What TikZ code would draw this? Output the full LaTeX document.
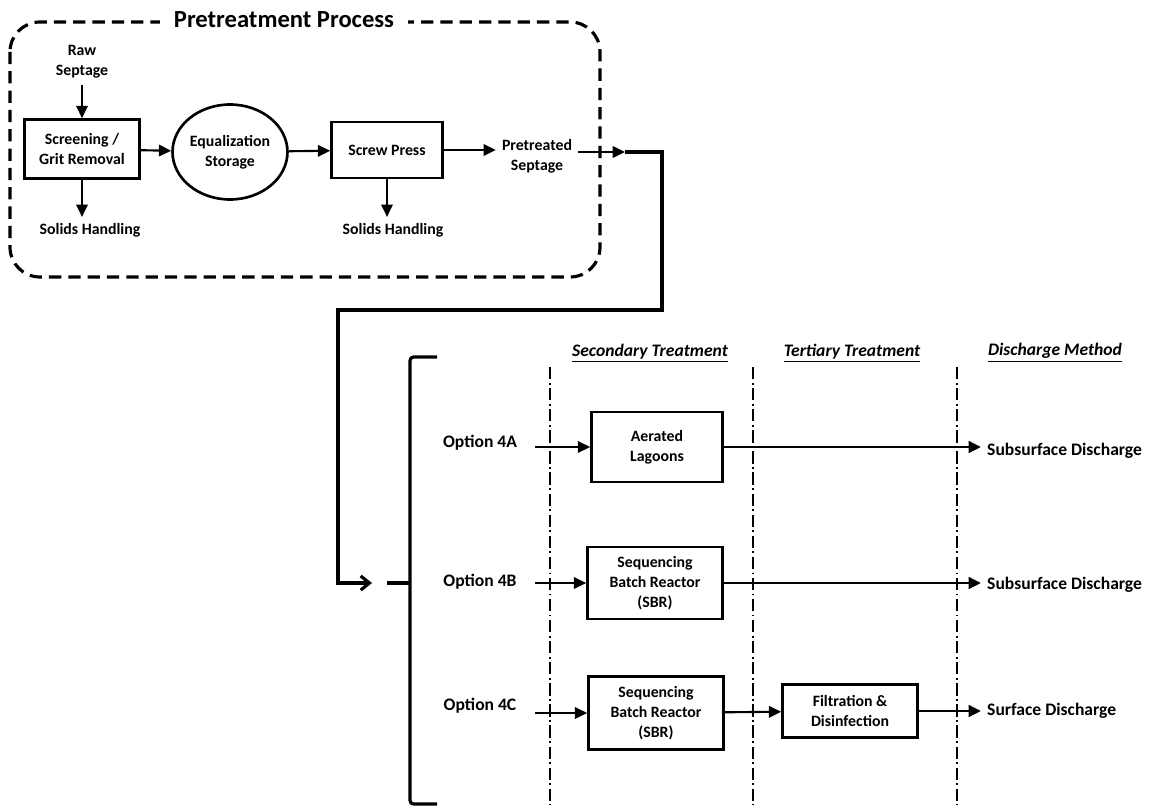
\documentclass[tikz,border=0pt]{standalone}
\usepackage{fontspec}
\setmainfont{Carlito}
\usetikzlibrary{shapes.geometric, positioning, arrows.meta}

\begin{document}
\begin{tikzpicture}[x=0.02cm, y=-0.02cm, >={Triangle[length=7pt,width=6.5pt]},
        procbox/.style={draw, line width=1.5pt, align=center, inner sep=2pt, font=\bfseries\fontsize{9}{11.5}\selectfont},
        lbl/.style={align=center, font=\bfseries\fontsize{9}{11.5}\selectfont},
        optlbl/.style={font=\bfseries\fontsize{10}{12}\selectfont},
        heading/.style={font=\bfseries\itshape\fontsize{10}{12}\selectfont},
        flow/.style={->, line width=1.2pt},
        outflow/.style={->, line width=1.7pt},
        pipe/.style={line width=1.8pt},
        zone/.style={line width=1.2pt, dash pattern=on 7pt off 2pt on 1pt off 2pt},
        pretreat/.style={line width=1.8pt, dash pattern=on 7pt off 4pt, rounded corners=17pt}]
        \useasboundingbox (0,0) rectangle (1154,808);

        \draw[pretreat] (10,22) rectangle (600,277);
        \node[fill=white, inner xsep=8pt, font=\bfseries\fontsize{14}{16}\selectfont] (title) at (284,20) {Pretreatment Process};

        \node[lbl] (raw) at (82,62) {Raw\\Septage};
        \node[procbox, minimum width=23mm, minimum height=11.8mm] (screen) at (82,149) {Screening /\\Grit Removal};
        \node[lbl] (solids1) at (90,230) {Solids Handling};
        \node[procbox, ellipse, inner sep=0pt, minimum width=23mm, minimum height=19mm] (eq) at (230,152) {Equalization\\Storage};
        \node[procbox, minimum width=22.2mm, minimum height=11.2mm] (press) at (387,150) {Screw Press};
        \node[lbl] (solids2) at (393,230) {Solids Handling};
        \node[lbl] (pretreated) at (537,156) {Pretreated\\Septage};
        \coordinate (j0) at (625,152);
        \coordinate (j1) at (372,583);

        \draw[flow] (raw) -- (screen);
        \draw[flow] (screen.south) -- (screen.south |- solids1.north);
        \draw[flow] (screen) -- (eq);
        \draw[flow] (eq) -- (press);
        \draw[flow] (press.south) -- (press.south |- solids2.north);
        \draw[flow] (press.east) -- (press.east -| pretreated.west);
        \draw[flow] (pretreated.east |- j0) -- (j0);
        \draw[pipe, -{Straight Barb[length=5pt,width=8pt]}] (j0) -- (662,152) -- (662,310) -- (338,310) -- (338,583) -- (j1);

        \draw[pipe, rounded corners=2pt] (437,357) -- (410,357) -- (410,804) -- (437,804);
        \draw[pipe] (387,583) -- (410,583);

        \node[heading] (sec) at (650,353) {\underline{Secondary Treatment}};
        \node[heading] (ter) at (852,353) {\underline{Tertiary Treatment}};
        \node[heading] (dis) at (1055,353) {\underline{Discharge Method}};
        \foreach \x in {550,753,957}
            \draw[zone] (\x,367) -- (\x,805);

        \node[optlbl] (optA) at (480,443) {Option 4A};
        \node[optlbl] (optB) at (480,582) {Option 4B};
        \node[optlbl] (optC) at (480,706) {Option 4C};

        \node[procbox, minimum width=26.2mm, minimum height=14mm] (lagoon) at (657,447) {Aerated\\Lagoons};
        \node[procbox, minimum width=27mm, minimum height=14.4mm] (sbrB) at (655,583) {Sequencing\\Batch Reactor\\(SBR)};
        \node[procbox, minimum width=27mm, minimum height=14.6mm] (sbrC) at (656,713) {Sequencing\\Batch Reactor\\(SBR)};
        \node[procbox, minimum width=27mm, minimum height=10.6mm] (filt) at (850,711) {Filtration \&\\Disinfection};

        \node[optlbl, anchor=west] (disA) at (981,451) {Subsurface Discharge};
        \node[optlbl, anchor=west] (disB) at (981,585) {Subsurface Discharge};
        \node[optlbl, anchor=west] (disC) at (981,711) {Surface Discharge};

        \draw[flow, shorten <=7pt] (optA.east |- lagoon.west) -- (lagoon.west);
        \draw[flow, shorten <=7pt] (optB.east |- sbrB.west) -- (sbrB.west);
        \draw[flow, shorten <=7pt] (optC.east |- sbrC.west) -- (sbrC.west);
        \draw[outflow] (lagoon.east) -- (lagoon.east -| disA.west);
        \draw[outflow] (sbrB.east) -- (sbrB.east -| disB.west);
        \draw[flow] (sbrC) -- (filt);
        \draw[outflow] (filt.east) -- (filt.east -| disC.west);
    \end{tikzpicture}
\end{document}
